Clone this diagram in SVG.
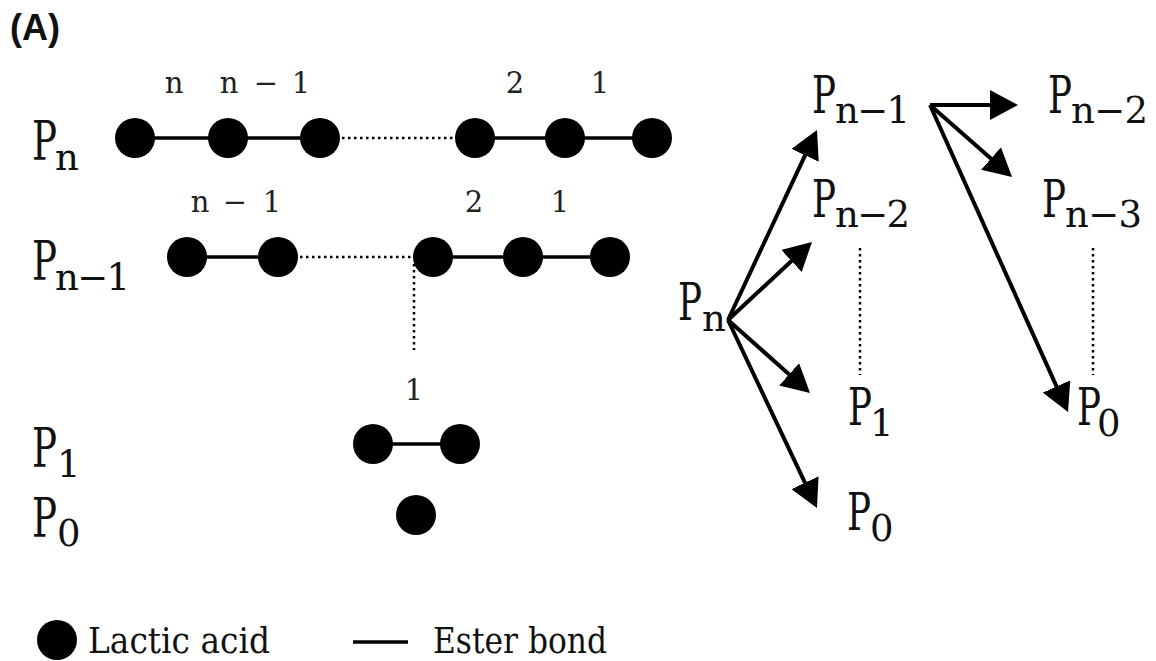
<svg xmlns="http://www.w3.org/2000/svg" width="1156" height="661" viewBox="0 0 1156 661">
<defs>
<style>
.bg{fill:#ffffff}
.ball{fill:#000}
.bond{stroke:#000;stroke-width:3.5;fill:none}
.dot{stroke:#000;stroke-width:2.5;stroke-dasharray:2.5 3.5;fill:none}
.arr{stroke:#000;stroke-width:4;fill:none;marker-end:url(#ah)}
.P{fill:#111}
.num{font-size:29px;fill:#222;text-anchor:middle}
.leg{fill:#111}
.ttl{font-weight:bold;font-size:36px;fill:#111}
</style>
<marker id="ah" viewBox="0 0 28 30" markerWidth="28" markerHeight="30" refX="4" refY="15" orient="auto" markerUnits="userSpaceOnUse">
<path d="M0,0 L28,15 L0,30 z" fill="#000"/>
</marker>
</defs>
<rect class="bg" x="0" y="0" width="1156" height="661"/>
<text class="ttl" font-family="'Liberation Sans', Arial, sans-serif" x="10" y="40">(A)</text>

<g font-family="'DejaVu Serif', 'Liberation Serif', 'Times New Roman', serif">
<!-- Left: chain Pn -->
<g id="chain-pn">
<text class="P" x="32" y="160" font-size="55"><tspan textLength="25" lengthAdjust="spacingAndGlyphs">P</tspan><tspan x="55" y="170" font-size="37">n</tspan></text>
<line class="bond" x1="135" y1="138" x2="320" y2="138"/>
<line class="bond" x1="475" y1="138" x2="652" y2="138"/>
<line class="dot" x1="342" y1="138" x2="456" y2="138"/>
<circle class="ball" cx="135" cy="138" r="20"/>
<circle class="ball" cx="228" cy="138" r="20"/>
<circle class="ball" cx="320" cy="138" r="20"/>
<circle class="ball" cx="475" cy="138" r="20"/>
<circle class="ball" cx="565" cy="138" r="20"/>
<circle class="ball" cx="652" cy="138" r="20"/>
<text class="num" x="174" y="93">n</text>
<text class="num" x="229" y="93">n</text>
<text class="num" x="266" y="93">−</text>
<text class="num" x="301" y="93">1</text>
<text class="num" x="515" y="93">2</text>
<text class="num" x="600" y="93">1</text>
</g>

<!-- Left: chain Pn-1 -->
<g id="chain-pn1">
<text class="P" x="32" y="280" font-size="55"><tspan textLength="25" lengthAdjust="spacingAndGlyphs">P</tspan><tspan x="55" y="290" font-size="37" textLength="75" lengthAdjust="spacing">n−1</tspan></text>
<line class="bond" x1="187" y1="257" x2="278" y2="257"/>
<line class="bond" x1="433" y1="257" x2="610" y2="257"/>
<line class="dot" x1="300" y1="257" x2="414" y2="257"/>
<line class="dot" x1="414" y1="264" x2="414" y2="350"/>
<circle class="ball" cx="187" cy="257" r="20"/>
<circle class="ball" cx="278" cy="257" r="20"/>
<circle class="ball" cx="433" cy="257" r="20"/>
<circle class="ball" cx="523" cy="257" r="20"/>
<circle class="ball" cx="610" cy="257" r="20"/>
<text class="num" x="200" y="212">n</text>
<text class="num" x="235" y="212">−</text>
<text class="num" x="272" y="212">1</text>
<text class="num" x="474" y="212">2</text>
<text class="num" x="560" y="212">1</text>
</g>

<!-- Left: P1 -->
<g id="chain-p1">
<text class="P" x="32" y="467" font-size="55"><tspan textLength="25" lengthAdjust="spacingAndGlyphs">P</tspan><tspan x="57" y="477" font-size="37">1</tspan></text>
<line class="bond" x1="373" y1="444" x2="460" y2="444"/>
<circle class="ball" cx="373" cy="444" r="20"/>
<circle class="ball" cx="460" cy="444" r="20"/>
<text class="num" x="414" y="400">1</text>
</g>

<!-- Left: P0 -->
<g id="chain-p0">
<text class="P" x="32" y="537" font-size="55"><tspan textLength="25" lengthAdjust="spacingAndGlyphs">P</tspan><tspan x="57" y="546" font-size="37">0</tspan></text>
<circle class="ball" cx="416" cy="515" r="20"/>
</g>

<!-- Right: scheme nodes -->
<g id="r-pn">
<text class="P" x="678" y="320" font-size="53"><tspan textLength="24" lengthAdjust="spacingAndGlyphs">P</tspan><tspan x="702" y="331" font-size="37">n</tspan></text>
</g>
<g id="r-pn1">
<text class="P" x="812" y="113" font-size="53"><tspan textLength="24" lengthAdjust="spacingAndGlyphs">P</tspan><tspan x="835" y="123" font-size="37" textLength="75" lengthAdjust="spacing">n−1</tspan></text>
</g>
<g id="r-pn2a">
<text class="P" x="812" y="217" font-size="53"><tspan textLength="24" lengthAdjust="spacingAndGlyphs">P</tspan><tspan x="835" y="227" font-size="37" textLength="75" lengthAdjust="spacing">n−2</tspan></text>
</g>
<g id="r-p1">
<text class="P" x="848" y="425" font-size="53"><tspan textLength="24" lengthAdjust="spacingAndGlyphs">P</tspan><tspan x="870" y="436" font-size="37">1</tspan></text>
</g>
<g id="r-p0a">
<text class="P" x="847" y="530" font-size="53"><tspan textLength="24" lengthAdjust="spacingAndGlyphs">P</tspan><tspan x="870" y="541" font-size="37">0</tspan></text>
</g>
<g id="r-pn2b">
<text class="P" x="1048" y="113" font-size="53"><tspan textLength="24" lengthAdjust="spacingAndGlyphs">P</tspan><tspan x="1071" y="123" font-size="37" textLength="77" lengthAdjust="spacing">n−2</tspan></text>
</g>
<g id="r-pn3">
<text class="P" x="1042" y="217" font-size="53"><tspan textLength="24" lengthAdjust="spacingAndGlyphs">P</tspan><tspan x="1065" y="227" font-size="37" textLength="77" lengthAdjust="spacing">n−3</tspan></text>
</g>
<g id="r-p0b">
<text class="P" x="1077" y="425" font-size="53"><tspan textLength="24" lengthAdjust="spacingAndGlyphs">P</tspan><tspan x="1097" y="436" font-size="37">0</tspan></text>
</g>

<!-- Legend -->
<g id="legend">
<circle class="ball" cx="57" cy="640" r="20"/>
<text class="leg" x="88" y="653" font-size="35" textLength="182" lengthAdjust="spacingAndGlyphs">Lactic acid</text>
<line class="bond" x1="353" y1="642" x2="408" y2="642"/>
<text class="leg" x="433" y="653" font-size="35" textLength="174" lengthAdjust="spacingAndGlyphs">Ester bond</text>
</g>
</g>

<!-- Connectors -->
<g id="connectors">
<line class="arr" x1="728" y1="320" x2="806.8" y2="151.7"/>
<line class="arr" x1="728" y1="320" x2="794.4" y2="258.3"/>
<line class="arr" x1="728" y1="320" x2="792.1" y2="377.0"/>
<line class="arr" x1="728" y1="320" x2="806.7" y2="486.3"/>
<line class="arr" x1="930" y1="105" x2="994" y2="105"/>
<line class="arr" x1="930" y1="105" x2="994.0" y2="161.2"/>
<line class="arr" x1="930" y1="105" x2="1058.2" y2="390.1"/>
<line class="dot" x1="860" y1="248" x2="860" y2="375"/>
<line class="dot" x1="1093" y1="248" x2="1093" y2="375"/>
</g>
</svg>
